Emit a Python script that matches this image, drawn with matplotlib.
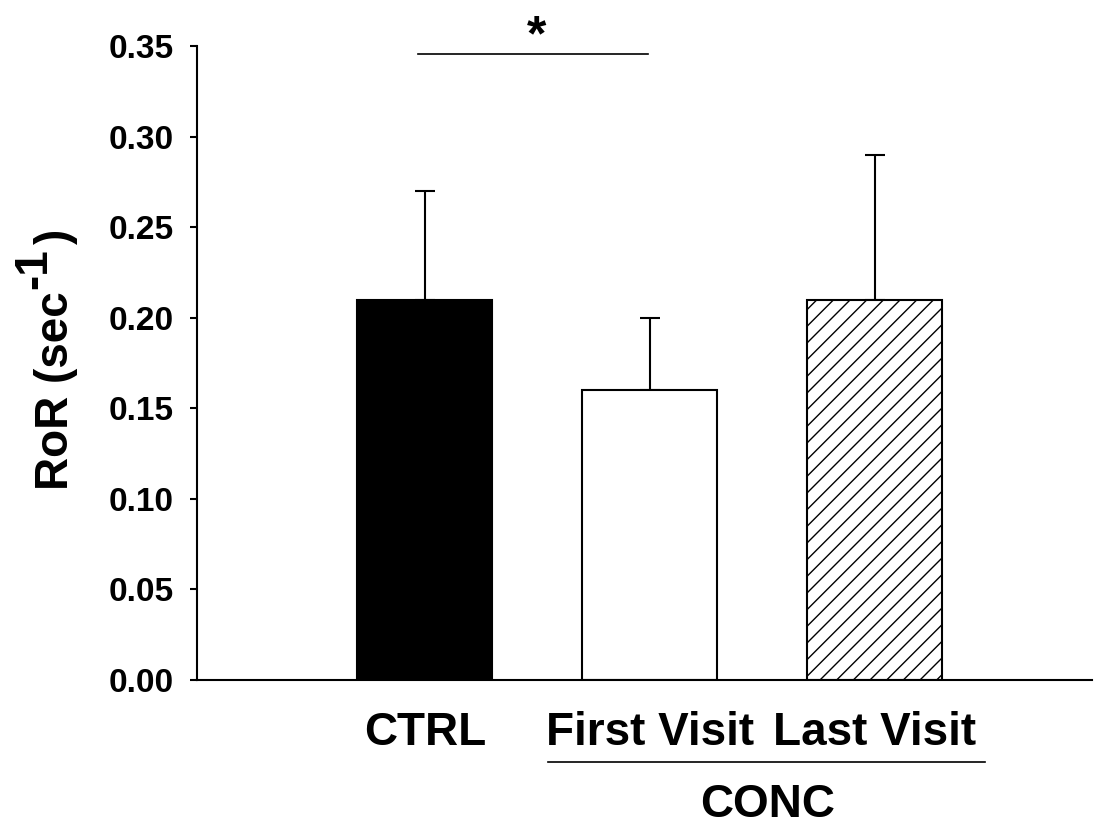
import numpy as np
import matplotlib
matplotlib.use('Agg')
import matplotlib.pyplot as plt

plt.rcParams['font.family'] = ['Liberation Sans', 'DejaVu Sans']
plt.rcParams['font.weight'] = 'bold'
plt.rcParams['hatch.linewidth'] = 1.0

# Data
groups = ['CTRL', 'First Visit', 'Last Visit']
means = [0.21, 0.16, 0.21]
upper_err = [0.06, 0.04, 0.08]
colors = ['black', 'white', 'white']
hatches = [None, None, '//']
yticks = [0.00, 0.05, 0.10, 0.15, 0.20, 0.25, 0.30, 0.35]

W, H = 1095, 825
fig = plt.figure(figsize=(W / 100, H / 100), dpi=100)
ax = fig.add_axes([0.18, 0.1758, 0.817, 0.768])

x = np.arange(len(groups))
bars = ax.bar(x, means, width=0.6, color=colors, edgecolor='black', linewidth=1.5, zorder=2)
for b, h in zip(bars, hatches):
    if h:
        b.set_hatch(h)

ax.errorbar(x, means, yerr=[np.zeros(len(means)), upper_err], fmt='none',
            ecolor='black', elinewidth=1.5, capsize=7, capthick=1.5, zorder=1)

ax.set_xlim(-1.013, 2.964)
ax.set_ylim(0, 0.35)
ax.set_yticks(yticks)
ax.set_yticklabels(['%.2f' % v for v in yticks])
ax.set_xticks(x)
ax.set_xticklabels(groups, fontsize=33)
ax.tick_params(axis='x', length=0, pad=22.5)
ax.tick_params(axis='y', direction='out', length=5, width=1.5, labelsize=24, pad=12)
ax.spines['top'].set_visible(False)
ax.spines['right'].set_visible(False)
ax.spines['left'].set_linewidth(1.5)
ax.spines['bottom'].set_linewidth(1.5)

# y label with full size raised superscript
fs = 33
xb = 68 / W
y0 = (H - 490) / H
r = fig.canvas.get_renderer()
t1 = fig.text(xb, y0, 'RoR (sec', rotation=90, rotation_mode='anchor',
              ha='left', va='baseline', fontsize=fs, fontweight='bold')
h1 = t1.get_window_extent(r).height
t2 = fig.text(xb - 22 / W, y0 + (h1 + 2) / H, '-1', rotation=90, rotation_mode='anchor',
              ha='left', va='baseline', fontsize=fs, fontweight='bold')
h2 = t2.get_window_extent(r).height
fig.text(xb, y0 + (h1 + h2 + 6) / H, ')', rotation=90, rotation_mode='anchor',
         ha='left', va='baseline', fontsize=fs, fontweight='bold')

# significance marker
ax.plot([-0.031, 0.991], [0.346, 0.346], color='black', lw=1.2, clip_on=False)
ax.text(0.498, 0.355, '*', ha='center', va='center', fontsize=36, clip_on=False)

# group bracket
ax.plot([0.547, 2.489], [-0.0453, -0.0453], color='black', lw=1.2, clip_on=False)
ax.text(1.524, -0.069, 'CONC', ha='center', va='center', fontsize=33, clip_on=False)

fig.savefig('out.png', dpi=100)
